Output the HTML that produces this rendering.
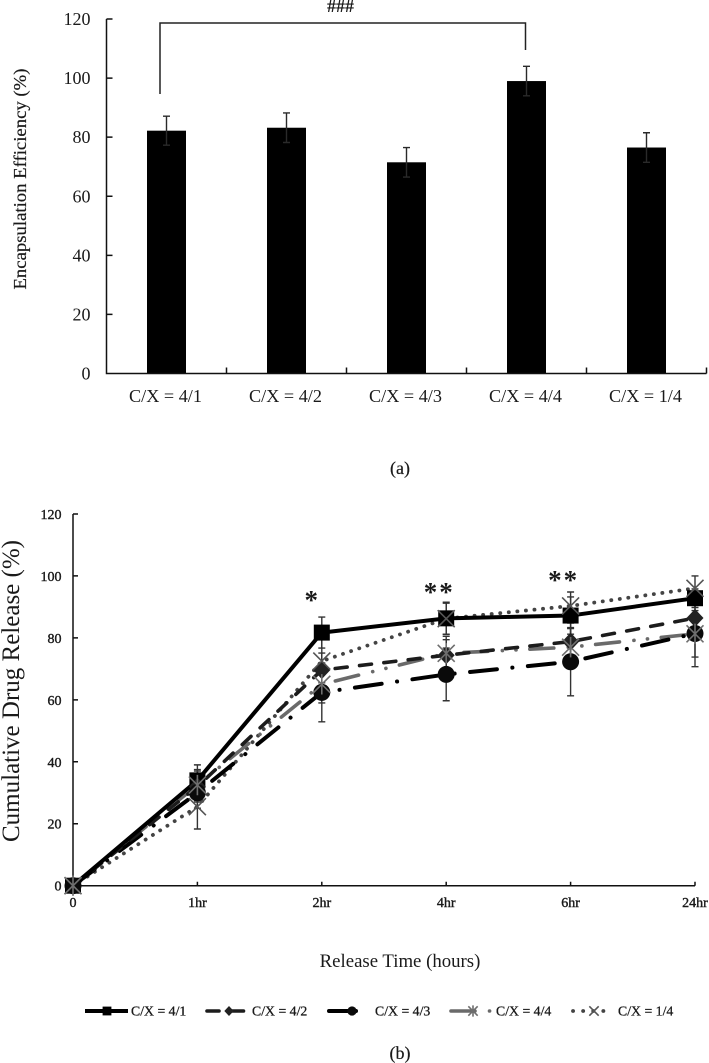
<!DOCTYPE html>
<html lang="en">
<head>
<meta charset="utf-8">
<title>Encapsulation Efficiency and Cumulative Drug Release</title>
<style>
html,body{margin:0;padding:0;background:#fff;}
svg{display:block;font-family:"Liberation Serif",serif;filter:blur(0.35px);}
text{fill:#1a1a1a;}
</style>
</head>
<body>
<svg id="figure" xmlns="http://www.w3.org/2000/svg" width="709" height="1063" viewBox="0 0 709 1063">
  <rect width="709" height="1063" fill="#fff"/>
  <g id="chart-a"></g>
  <g id="chart-b"></g>
</svg>
<script>
// Panel (a) data
const barCategories = ['C/X = 4/1', 'C/X = 4/2', 'C/X = 4/3', 'C/X = 4/4', 'C/X = 1/4'];
const barValues = [82.2, 83.2, 71.5, 99, 76.5];
const barErrors = [4.9, 5, 5, 5, 5];
const barTicks = [0, 20, 40, 60, 80, 100, 120];

// Panel (b) data
const timeLabels = ['0', '1hr', '2hr', '4hr', '6hr', '24hr'];
const releaseTicks = [0, 20, 40, 60, 80, 100, 120];
const seriesNames = ['C/X = 4/1', 'C/X = 4/2', 'C/X = 4/3', 'C/X = 4/4', 'C/X = 1/4'];
const release41 = [0, 34, 81.7, 86.3, 87.2, 92.8];
const release42 = [0, 32, 69.6, 74.4, 78.8, 86.4];
const release43 = [0, 30, 62.4, 68.2, 72.3, 81.4];
const release44 = [0, 32.5, 65, 75, 77, 81.3];
const release14 = [0, 25.5, 72.5, 86.2, 90.3, 96];
const error41 = [0, 5, 5, 5.2, 6, 3];
const error42 = [0, 5, 5.5, 5, 6, 5];
const error43 = [0, 5, 9.5, 8.5, 11, 10.7];
const error44 = [0, 5, 6, 5.5, 6, 7.5];
const error14 = [0, 7.2, 7, 5, 4.5, 4];
const significance = [['*', 2], ['**', 3], ['**', 4]];

const NS = 'http://www.w3.org/2000/svg';
function make(parent, tag, attrs, text) {
  const el = document.createElementNS(NS, tag);
  for (const k in attrs) el.setAttribute(k, attrs[k]);
  if (text !== undefined) el.textContent = text;
  parent.appendChild(el);
  return el;
}

/* ---------- Panel (a) ---------- */
const a = document.getElementById('chart-a');
const aLeft = 106.5, aRight = 706.5, aBase = 373.5, aUnit = 2.954, aBand = 120;
const ay = v => aBase - v * aUnit;
const ax = i => aLeft + aBand * (i + 0.5);

barCategories.forEach((c, i) => {
  const bar = make(a, 'rect', {x: ax(i) - 19.5, y: ay(barValues[i]), width: 39, height: aBase - ay(barValues[i]), fill: '#000'});
  
  
  const err = make(a, 'path', {
    d: `M${ax(i)} ${ay(barValues[i] + barErrors[i])}V${ay(barValues[i] - barErrors[i])}M${ax(i) - 3.5} ${ay(barValues[i] + barErrors[i])}h7M${ax(i) - 3.5} ${ay(barValues[i] - barErrors[i])}h7`,
    stroke: '#2a2a2a', 'stroke-width': 1.4, fill: 'none'});
  
  
  const lab = make(a, 'text', {x: ax(i) - 1, y: 402, 'text-anchor': 'middle', 'font-size': 18.2}, c);
  
  
});

let aAxis = `M${aLeft} ${ay(120)}V${aBase}H${aRight}`;
barTicks.forEach(t => { aAxis += `M${aLeft} ${ay(t)}h6`; });
barCategories.forEach((c, i) => { aAxis += `M${aLeft + aBand * (i + 1)} ${aBase}v-6`; });
const aAxisEl = make(a, 'path', {d: aAxis, stroke: '#111', 'stroke-width': 1.5, fill: 'none'});



barTicks.forEach(t => {
  const lab = make(a, 'text', {x: 90.5, y: ay(t) + 6, 'text-anchor': 'end', 'font-size': 18}, String(t));
  
  
});

const aTitle = make(a, 'text', {transform: 'translate(26,179) rotate(-90)', 'text-anchor': 'middle', 'font-size': 18, stroke: '#1a1a1a', 'stroke-width': 0.2, textLength: 221, lengthAdjust: 'spacingAndGlyphs'}, 'Encapsulation Efficiency (%)');



const bracket = make(a, 'path', {d: 'M160 94V23H525.5V50', stroke: '#222', 'stroke-width': 1.5, fill: 'none'});


const hash = make(a, 'text', {x: 340.5, y: 12, 'text-anchor': 'middle', 'font-size': 18, 'font-weight': 'bold'}, '###');


const capA = make(a, 'text', {x: 400, y: 474, 'text-anchor': 'middle', 'font-size': 18, stroke: '#1a1a1a', 'stroke-width': 0.2}, '(a)');



/* ---------- Panel (b) ---------- */
const b = document.getElementById('chart-b');
const bLeft = 73, bStep = 124.4, bBase = 885.7, bUnit = 3.098;
const bx = i => bLeft + bStep * i;
const by = v => bBase - v * bUnit;

function drawMarker(parent, kind, x, y, scale) {
  const s = scale;
  if (kind === 'square') return make(parent, 'rect', {x: x - 8 * s, y: y - 8 * s, width: 16 * s, height: 16 * s, fill: '#000'});
  if (kind === 'diamond') return make(parent, 'path', {d: `M${x} ${y - 9 * s}L${x + 8.5 * s} ${y}L${x} ${y + 9 * s}L${x - 8.5 * s} ${y}Z`, fill: '#222'});
  if (kind === 'circle') return make(parent, 'circle', {cx: x, cy: y, r: 8.5 * s, fill: '#0a0a0a'});
  if (kind === 'star') {
    const r = 8.5 * s;
    return make(parent, 'path', {d: `M${x - r} ${y - r}L${x + r} ${y + r}M${x - r} ${y + r}L${x + r} ${y - r}M${x} ${y - r * 1.2}V${y + r * 1.2}`, stroke: '#6e6e6e', 'stroke-width': 1.6, fill: 'none'});
  }
  const r = 8.5 * s;
  return make(parent, 'path', {d: `M${x - r} ${y - r}L${x + r} ${y + r}M${x - r} ${y + r}L${x + r} ${y - r}`, stroke: '#555', 'stroke-width': 1.6, fill: 'none'});
}

const seriesValues = [release41, release42, release43, release44, release14];
const seriesErrors = [error41, error42, error43, error44, error14];
const seriesKinds = ['square', 'diamond', 'circle', 'star', 'cross'];
const seriesStroke = ['#000', '#1c1c1c', '#000', '#6a6a6a', '#444'];
const seriesDash = ['', '12 12.5', '27 15.5 0.1 15.5', '24 14.5 0.1 13.5 0.1 13.8', '0.1 8.5'];
const seriesDashOffset = [0, 0, 0, -4, 0];
const seriesCap = ['butt', 'round', 'round', 'round', 'round'];
const seriesWidth = [4, 3.6, 4, 3.6, 3.8];
const drawOrder = [4, 3, 2, 1, 0];

let bAxis = `M${bLeft} ${by(120)}V${bBase}H${bx(5)}`;
releaseTicks.forEach(t => { bAxis += `M${bLeft} ${by(t)}h5`; });
timeLabels.forEach((l, i) => { if (i > 0) bAxis += `M${bx(i)} ${bBase}v-4`; });
const bAxisEl = make(b, 'path', {d: bAxis, stroke: '#111', 'stroke-width': 1.5, fill: 'none'});



releaseTicks.forEach(t => {
  const lab = make(b, 'text', {x: 61.5, y: by(t) + 5, 'text-anchor': 'end', 'font-size': 14, stroke: '#1a1a1a', 'stroke-width': 0.4}, String(t));
  
  
});
timeLabels.forEach((l, i) => {
  const lab = make(b, 'text', {x: bx(i), y: 907, 'text-anchor': 'middle', 'font-size': 14, stroke: '#1a1a1a', 'stroke-width': 0.4}, l);
  
  
});

// error bars
seriesValues.forEach((vals, si) => {
  const errs = seriesErrors[si];
  vals.forEach((v, i) => {
    if (i === 0) return;
    const x = bx(i), t = by(v + errs[i]), d = by(v - errs[i]);
    const e = make(b, 'path', {d: `M${x} ${t}V${d}M${x - 3.5} ${t}h7M${x - 3.5} ${d}h7`, stroke: '#333', 'stroke-width': 1.4, fill: 'none'});
    
    
  });
});

// lines and markers
drawOrder.forEach(si => {
  const vals = seriesValues[si];
  const pts = vals.map((v, i) => bx(i) + ',' + by(v)).join(' ');
  const line = make(b, 'polyline', {points: pts, fill: 'none', stroke: seriesStroke[si], 'stroke-width': seriesWidth[si], 'stroke-linecap': seriesCap[si], 'stroke-linejoin': 'round'});
  if (seriesDash[si]) {
    line.setAttribute('stroke-dasharray', seriesDash[si]);
    line.setAttribute('stroke-dashoffset', seriesDashOffset[si]);
  }
  
  
});
[0, 1, 2, 4, 3].forEach(si => {
  seriesValues[si].forEach((v, i) => {
    const m = drawMarker(b, seriesKinds[si], bx(i), by(v), 1);
    
    
  });
});

// significance stars
const starY = [609, 601, 589];
significance.forEach((s, k) => {
  const st = make(b, 'text', {x: bx(s[1]) - (s[0].length === 1 ? 9.5 : 7), y: starY[k], 'text-anchor': 'middle', 'font-size': 27, 'font-weight': 'bold', 'letter-spacing': 2, fill: '#000'}, s[0]);
  
  
});

const bTitle = make(b, 'text', {transform: 'translate(19,691) rotate(-90)', 'text-anchor': 'middle', 'font-size': 25, fill: '#333', textLength: 302, lengthAdjust: 'spacingAndGlyphs'}, 'Cumulative Drug Release (%)');


const bXTitle = make(b, 'text', {x: 400, y: 967, 'text-anchor': 'middle', 'font-size': 18.8}, 'Release Time (hours)');


const capB = make(b, 'text', {x: 400, y: 1059, 'text-anchor': 'middle', 'font-size': 18, stroke: '#1a1a1a', 'stroke-width': 0.2}, '(b)');



// legend
const legendY = 1011;
const legendLineStart = [85, 207, 329, 451, 573];
const legendLineEnd = [128, 245, 358, 491.5, 608];
const legendMarkerX = [107, 229, 352, 473, 594];
const legendTextX = [131, 252, 375, 496, 618];
seriesNames.forEach((name, si) => {
  const g = make(b, 'g', {});
  
  
  const ln = make(g, 'line', {x1: legendLineStart[si], x2: legendLineEnd[si], y1: legendY, y2: legendY, stroke: seriesStroke[si], 'stroke-width': seriesWidth[si], 'stroke-linecap': seriesCap[si]});
  if (seriesDash[si]) ln.setAttribute('stroke-dasharray', seriesDash[si] === '0.1 8.5' ? '0.1 10' : seriesDash[si]);
  
  
  const mk = drawMarker(g, seriesKinds[si], legendMarkerX[si], legendY, 0.55);
  
  
  const tx = make(g, 'text', {x: legendTextX[si], y: legendY + 4.5, 'font-size': 13.8, stroke: '#1a1a1a', 'stroke-width': 0.3}, name);
  
  
});
</script>
</body>
</html>
